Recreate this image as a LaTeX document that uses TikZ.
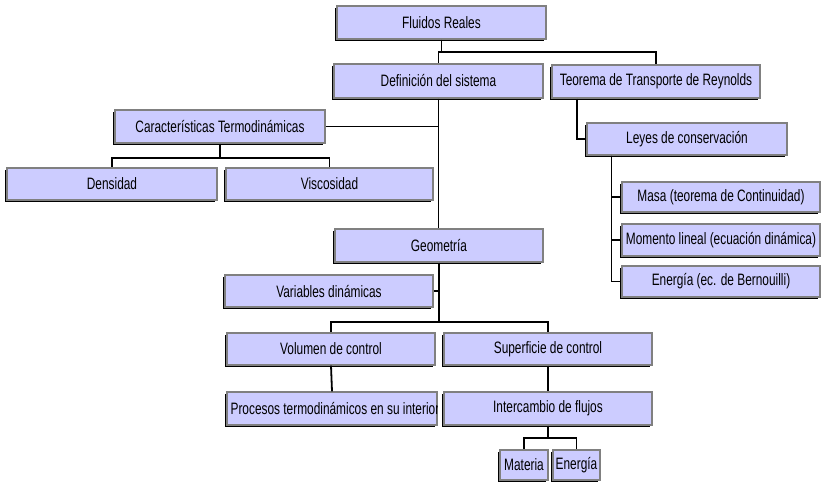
\documentclass[tikz,border=0pt]{standalone}
\usepackage{fontspec}
\setmainfont[FakeStretch=0.72]{Liberation Sans}
\usetikzlibrary{shadows}
\definecolor{boxfill}{RGB}{204,204,255}
\definecolor{boxedge}{RGB}{128,128,128}
\tikzset{
  boxfont/.style={font=\fontsize{16.5}{18}\selectfont},
  box/.style={draw=boxedge, line width=1.2pt, fill=boxfill, inner sep=0pt, boxfont,
    drop shadow={shadow xshift=-1.6pt, shadow yshift=-2.2pt, fill=black, opacity=1}},
  link/.style={draw=black, line width=1.8pt}
}
\newcommand{\mybox}[6]{\node[box, minimum width=#4pt, minimum height=#5pt] (#1) at (#2,#3) {#6};}
\begin{document}
\begin{tikzpicture}[x=1pt,y=-1pt]
\useasboundingbox (0,0) rectangle (822,483);
\coordinate (c1) at (441.5,52);
\coordinate (c2) at (220,158);
\coordinate (c3) at (439,322);
\coordinate (c4) at (548,438);
% boxes
\mybox{fr}{441.5}{22.5}{209}{33}{Fluidos Reales}
\mybox{def}{438.5}{81}{209}{34}{Definición del sistema}
\mybox{ttr}{656}{81.5}{208}{33}{Teorema de Transporte de Reynolds}
\mybox{car}{220}{126.5}{210}{33}{Características Termodinámicas}
\mybox{den}{112}{184}{210}{32}{Densidad}
\mybox{vis}{329.5}{184}{207}{32}{Viscosidad}
\mybox{ley}{687}{139}{200}{32}{Leyes de conservación}
\mybox{masa}{721}{197}{198}{30}{Masa (teorema de Continuidad)}
\mybox{mom}{721}{240}{198}{32}{Momento lineal (ecuación dinámica)}
\mybox{ene}{721}{281.5}{198}{31}{Energía (ec. de Bernouilli)}
\mybox{geo}{439}{245.5}{208}{33}{Geometría}
\mybox{var}{329}{291}{208}{32}{Variables dinámicas}
\mybox{vol}{331}{349}{208}{32}{Volumen de control}
\mybox{sup}{548}{349}{208}{32}{Superficie de control}
\mybox{pro}{332}{408.5}{210}{33}{}
\mybox{int}{548}{408.5}{208}{33}{Intercambio de flujos}
\mybox{mat}{524}{465}{48}{30}{Materia}
\mybox{enr}{576.5}{465}{47}{30}{Energía}
\begin{scope}
\clip (pro.south west) rectangle (pro.north east);
\node[anchor=west, inner sep=0pt, boxfont] (protext) at ([xshift=4pt]pro.west) {Procesos termodinámicos en su interior};
\end{scope}
% connectors
\draw[link] (fr.south) -- (c1) -| (def.north);
\draw[link] (c1) -| (ttr.north);
\draw[link] (def.south) -- (def.south |- geo.north);
\draw[link] (car.east) -- (car.east -| def.south);
\draw[link] (car.south) -- (c2) -| (den.north);
\draw[link] (c2) -| (vis.north);
\draw[link] ([xshift=-79pt]ttr.south) |- (ley.west);
\draw[link] ([xshift=25pt]ley.south west) |- (masa.west);
\draw[link] ([xshift=25pt]ley.south west) |- (mom.west);
\draw[link] ([xshift=25pt]ley.south west) |- (ene.west);
\draw[link] (geo.south) -- (c3) -| (vol.north);
\draw[link] (c3) -| (sup.north);
\draw[link] (var.east) -- (var.east -| geo.south);
\draw[link] (vol.south) -- (pro.north);
\draw[link] (sup.south) -- (int.north);
\draw[link] (int.south) -- (c4) -| (mat.north);
\draw[link] (c4) -| (enr.north);
\end{tikzpicture}
\end{document}
